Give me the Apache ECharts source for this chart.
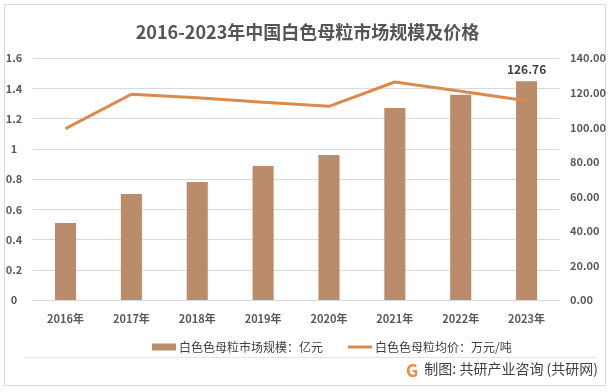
<!DOCTYPE html>
<html>
<head>
<meta charset="utf-8">
<script src="https://cdn.jsdelivr.net/npm/echarts@6/dist/echarts.min.js"></script>
<style>
html,body{margin:0;padding:0;background:#fff;}
#chart{width:615px;height:392px;}
</style>
</head>
<body>
<div id="chart"></div>
<script>
var categories = ['2016年','2017年','2018年','2019年','2020年','2021年','2022年','2023年'];
var marketSize = [44.6, 61.4, 68.3, 77.6, 84.0, 111.2, 118.9, 126.76];
var avgPrice = [1.134, 1.362, 1.339, 1.309, 1.282, 1.443, 1.382, 1.319];
var leftTicks = [0, 0.2, 0.4, 0.6, 0.8, 1, 1.2, 1.4, 1.6];
var rightTicks = [0, 20, 40, 60, 80, 100, 120, 140];
var seriesNames = ['白色色母粒市场规模：亿元', '白色色母粒均价：万元/吨'];
var titleText = '2016-2023年中国白色母粒市场规模及价格';
var sourceText = '制图: 共研产业咨询 (共研网)';

var FONT = '"Noto Sans CJK SC", "Noto Sans", sans-serif';
var chart = echarts.init(document.getElementById('chart'), null, {renderer: 'canvas'});
var lastIdx = marketSize.length - 1;
chart.setOption({
  animation: false,
  backgroundColor: '#fff',
  textStyle: {fontFamily: FONT},
  title: {
    text: titleText,
    left: 'center',
    top: 18,
    textStyle: {fontFamily: FONT, fontSize: 18, fontWeight: 'bold', color: '#555555'}
  },
  grid: {left: 32.6, right: 55.5, top: 58.3, bottom: 92, containLabel: false},
  legend: {
    left: 147,
    top: 336,
    itemGap: 25,
    itemWidth: 24,
    itemHeight: 7,
    textStyle: {fontFamily: FONT, fontSize: 12, color: '#404040', padding: [0, 0, 0, -2]},
    data: [
      {name: seriesNames[0], icon: 'rect'},
      {name: seriesNames[1], icon: 'path://M0,0H24V0.01H0Z M0,2H24V5H0Z M0,6.99H24V7H0Z'}
    ]
  },
  xAxis: {
    type: 'category',
    data: categories,
    axisLine: {show: true, lineStyle: {color: '#d9d9d9'}},
    axisTick: {show: false},
    axisLabel: {fontFamily: FONT, fontSize: 11, fontWeight: 'bold', color: '#595959', margin: 13}
  },
  yAxis: [
    {
      type: 'value',
      min: leftTicks[0],
      max: leftTicks[leftTicks.length - 1],
      interval: 0.2,
      position: 'left',
      axisLine: {show: false},
      axisTick: {show: false},
      splitLine: {lineStyle: {color: '#d9d9d9'}},
      axisLabel: {
        fontFamily: FONT, fontSize: 11, fontWeight: 'bold', color: '#595959',
        align: 'center', margin: 18.6,
        formatter: function (v) { return String(Math.round(v * 10) / 10); }
      }
    },
    {
      type: 'value',
      min: rightTicks[0],
      max: rightTicks[rightTicks.length - 1],
      interval: 20,
      position: 'right',
      axisLine: {show: false},
      axisTick: {show: false},
      splitLine: {show: false},
      axisLabel: {
        fontFamily: FONT, fontSize: 11, fontWeight: 'bold', color: '#595959',
        align: 'left', margin: 10.5,
        formatter: function (v) { return v.toFixed(2); }
      }
    }
  ],
  series: [
    {
      name: seriesNames[0],
      type: 'bar',
      yAxisIndex: 1,
      barWidth: '32%',
      itemStyle: {color: '#BA8C6A'},
      data: marketSize.map(function (v, i) {
        return i === lastIdx ? {value: v, label: {show: true}} : v;
      }),
      label: {
        show: false,
        position: 'top',
        distance: 6,
        fontFamily: FONT, fontSize: 12, fontWeight: 'bold', color: '#404040',
        formatter: function (p) { return p.value.toFixed(2); }
      },
      z: 2
    },
    {
      name: seriesNames[1],
      type: 'line',
      yAxisIndex: 0,
      symbol: 'none',
      lineStyle: {color: '#DA8B4B', width: 3},
      itemStyle: {color: '#DA8B4B'},
      data: avgPrice,
      z: 3
    }
  ],
  graphic: [
    {
      type: 'rect',
      shape: {x: 4.5, y: 4.5, width: 601, height: 381},
      style: {fill: 'none', stroke: '#d9d9d9', lineWidth: 1},
      silent: true, z: -1
    },
    {
      type: 'line',
      shape: {x1: 24, y1: 357.5, x2: 597, y2: 357.5},
      style: {stroke: '#e3e3e3', lineWidth: 1},
      silent: true
    },
    {
      type: 'text',
      left: 406,
      top: 362,
      style: {text: 'G', fontFamily: FONT, fontSize: 17, fontWeight: 'bold', fill: '#F28A3E'}
    },
    {
      type: 'text',
      right: 17,
      top: 362,
      style: {text: sourceText, fontFamily: FONT, fontSize: 14, fill: '#404040'}
    }
  ]
});
</script>
</body>
</html>
